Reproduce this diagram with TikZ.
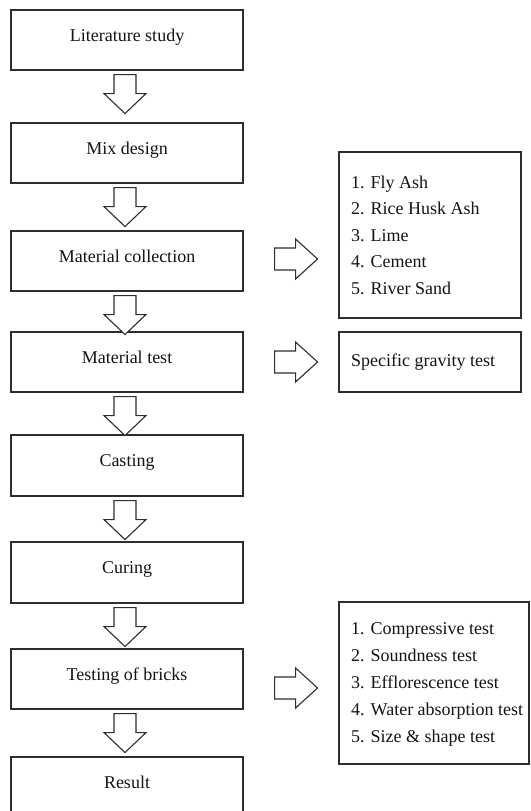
\documentclass[tikz,border=0pt]{standalone}
\usepackage{fontspec}
\setmainfont{Liberation Serif}
\usetikzlibrary{calc}
\newcommand\darr[1]{\draw[blk] ($(#1.south)+(-13,4)$) -- ++(0,19) -- ++(-10,0) -- ++(21,20) -- ++(21,-20) -- ++(-10,0) -- ++(0,-19) -- cycle;}
\newcommand\rarr[2]{\draw[blk] ($(#1.east)+(31,#2-11)$) -- ++(21,0) -- ++(0,-9) -- ++(22,20) -- ++(-22,20) -- ++(0,-9) -- ++(-21,0) -- cycle;}
\begin{document}
\begin{tikzpicture}[x=1pt,y=-1pt,
  stepbox/.style={draw=black!82, line width=1.1pt, minimum width=232pt, minimum height=60pt,
    inner sep=0pt, text height=7pt, text depth=5pt, font=\fontsize{18}{22}\selectfont, text=black!92},
  sidebox/.style={draw=black!82, line width=1.1pt, inner sep=0pt},
  listtext/.style={inner sep=0pt, align=left, font=\fontsize{18}{26.5}\selectfont, text=black!92},
  blk/.style={draw=black!82, line width=1.1pt, fill=white, line join=miter}
]
\useasboundingbox (0,0) rectangle (530,811);
\clip (0,0) rectangle (530,811);
\fill[white] (0,0) rectangle (530,811);

\node[stepbox] (B1) at (127,40) {Literature study};
\node[stepbox] (B2) at (127,153) {Mix design};
\node[stepbox] (B3) at (127,261) {Material collection};
\node[stepbox] (B4) at (127,362) {Material test};
\node[stepbox, minimum height=61pt] (B5) at (127,465.5) {Casting};
\node[stepbox, minimum height=61pt] (B6) at (127,572.5) {Curing};
\node[stepbox] (B7) at (127,679) {Testing of bricks};
\node[stepbox] (B8) at (127,787) {Result};

\darr{B1}
\darr{B2}
\darr{B3}
\darr{B4}
\darr{B5}
\darr{B6}
\darr{B7}

\node[sidebox, minimum width=182pt, minimum height=166pt] (R1) at (430,235) {};
\node[listtext, anchor=north west] (R1t) at (351,175.5) {1. Fly Ash\\2. Rice Husk Ash\\3. Lime\\4. Cement\\5. River Sand};

\node[sidebox, minimum width=182pt, minimum height=60pt] (R2) at (430,362) {};
\node[listtext, anchor=base west] (R2t) at (351,366) {Specific gravity test};

\node[sidebox, minimum width=190pt, minimum height=162pt] (R3) at (434,683) {};
\node[listtext, anchor=north west, font=\fontsize{18}{27.2}\selectfont] (R3t) at (351,622) {1. Compressive test\\2. Soundness test\\3. Efflorescence test\\4. Water absorption test\\5. Size \& shape test};

\rarr{B3}{-2}
\rarr{B4}{0}
\rarr{B7}{9}
\end{tikzpicture}
\end{document}
